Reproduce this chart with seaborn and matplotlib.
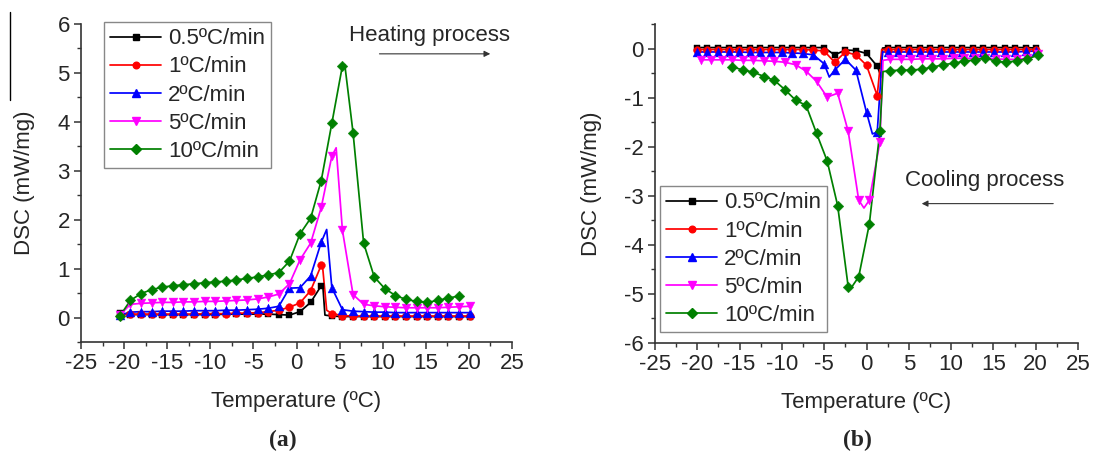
import numpy as np
import pandas as pd
import matplotlib
matplotlib.use("Agg")
import matplotlib.pyplot as plt
import seaborn as sns
from matplotlib.lines import Line2D
from matplotlib.ticker import MultipleLocator

# ---------------- data ----------------
rates = ["0.5ºC/min", "1ºC/min", "2ºC/min", "5ºC/min", "10ºC/min"]

# (a) heating - marker temperatures
heat_T = [-20.50, -19.27, -18.04, -16.81, -15.58, -14.35, -13.12, -11.89, -10.66, -9.43,
          -8.20, -6.97, -5.74, -4.51, -3.28, -2.05, -0.82, 0.41, 1.64, 2.87,
          4.10, 5.33, 6.56, 7.79, 9.02, 10.25, 11.48, 12.71, 13.94, 15.17,
          16.40, 17.63, 18.86, 20.09]
heat_T10 = heat_T[:33]

heat_05 = [0.09, 0.06, 0.06, 0.06, 0.06, 0.06, 0.06, 0.06, 0.06, 0.06,
           0.07, 0.07, 0.07, 0.07, 0.07, 0.06, 0.05, 0.12, 0.31, 0.65,
           0.03, 0.02, 0.02, 0.02, 0.02, 0.02, 0.02, 0.02, 0.02, 0.02,
           0.02, 0.02, 0.02, 0.02]
heat_1 = [0.04, 0.07, 0.07, 0.07, 0.07, 0.07, 0.07, 0.07, 0.08, 0.08,
          0.08, 0.09, 0.09, 0.10, 0.12, 0.15, 0.21, 0.30, 0.55, 1.07,
          0.08, 0.04, 0.03, 0.03, 0.03, 0.03, 0.03, 0.03, 0.03, 0.03,
          0.03, 0.03, 0.03, 0.03]
heat_2 = [0.05, 0.11, 0.12, 0.12, 0.13, 0.13, 0.13, 0.14, 0.14, 0.14,
          0.15, 0.15, 0.16, 0.17, 0.19, 0.23, 0.60, 0.61, 0.85, 1.54,
          0.61, 0.16, 0.13, 0.12, 0.11, 0.11, 0.10, 0.10, 0.10, 0.10,
          0.10, 0.10, 0.10, 0.10]
heat_5 = [0.05, 0.27, 0.29, 0.30, 0.31, 0.31, 0.32, 0.32, 0.33, 0.33,
          0.34, 0.35, 0.36, 0.38, 0.42, 0.48, 0.69, 1.18, 1.52, 2.25,
          3.30, 1.78, 0.47, 0.27, 0.24, 0.22, 0.21, 0.20, 0.20, 0.20,
          0.20, 0.21, 0.22, 0.23]
heat_10 = [0.03, 0.35, 0.49, 0.57, 0.62, 0.65, 0.67, 0.69, 0.71, 0.73,
           0.74, 0.77, 0.80, 0.83, 0.87, 0.92, 1.15, 1.71, 2.03, 2.80,
           3.97, 5.15, 3.78, 1.52, 0.83, 0.59, 0.45, 0.37, 0.33, 0.31,
           0.35, 0.40, 0.44]
# extra curve points (peaks between markers)
heat_extra_T = [[3.05, 3.30], [3.00, 3.50], [3.50], [4.60], [5.60]]
heat_extra_v = [[0.66, 0.05], [1.09, 0.15], [1.80], [3.47], [5.17]]

# (b) cooling - marker temperatures
cool_Ta = [-20.07, -18.82, -17.56, -16.30, -15.05, -13.80, -12.54, -11.29, -10.03, -8.78,
           -7.52, -6.27, -5.01, -3.76, -2.50, -1.25, 0.00, 1.27, 2.52, 3.78,
           5.03, 6.29, 7.54, 8.80, 10.05, 11.30, 12.56, 13.81, 15.07, 16.32,
           17.58, 18.83, 20.09]
cool_Tb = [-19.59, -18.35, -17.10, -15.86, -14.61, -13.37, -12.12, -10.88, -9.63, -8.39,
           -7.14, -5.90, -4.65, -3.41, -2.16, -0.92, 0.33, 1.58, 2.82, 4.07,
           5.31, 6.56, 7.80, 9.05, 10.29, 11.54, 12.78, 14.03, 15.27, 16.52,
           17.76, 19.01, 20.25]
cool_T10 = cool_Tb[3:]

cool_05 = [0.02, 0.02, 0.02, 0.02, 0.02, 0.02, 0.02, 0.02, 0.02, 0.02,
           0.02, 0.02, 0.02, -0.13, -0.03, -0.04, -0.10, -0.36, 0.02, 0.02,
           0.02, 0.02, 0.02, 0.02, 0.02, 0.02, 0.02, 0.02, 0.02, 0.02,
           0.02, 0.02, 0.01]
cool_1 = [-0.02, -0.02, -0.02, -0.02, -0.02, -0.02, -0.02, -0.02, -0.02, -0.02,
          -0.02, -0.03, -0.05, -0.28, -0.07, -0.13, -0.34, -0.96, -0.02, -0.02,
          -0.02, -0.02, -0.02, -0.02, -0.02, -0.02, -0.02, -0.02, -0.02, -0.02,
          -0.02, -0.02, -0.02]
cool_2 = [-0.07, -0.07, -0.07, -0.07, -0.07, -0.08, -0.08, -0.08, -0.08, -0.09,
          -0.10, -0.13, -0.31, -0.44, -0.22, -0.44, -1.30, -1.70, -0.07, -0.07,
          -0.07, -0.07, -0.07, -0.07, -0.07, -0.07, -0.07, -0.07, -0.07, -0.07,
          -0.07, -0.06, -0.05]
cool_5 = [-0.23, -0.23, -0.23, -0.23, -0.24, -0.24, -0.25, -0.26, -0.28, -0.33,
          -0.46, -0.67, -0.99, -0.91, -1.69, -3.09, -3.09, -1.91, -0.22, -0.22,
          -0.22, -0.21, -0.21, -0.21, -0.20, -0.20, -0.20, -0.20, -0.21, -0.22,
          -0.22, -0.20, -0.12]
cool_10 = [-0.37, -0.44, -0.48, -0.57, -0.65, -0.84, -1.05, -1.16, -1.73, -2.29,
           -3.20, -4.86, -4.65, -3.58, -1.69, -0.45, -0.44, -0.44, -0.42, -0.38,
           -0.33, -0.30, -0.26, -0.23, -0.19, -0.26, -0.28, -0.25, -0.21, -0.14]
cool_extra_T = [[1.75, 1.90], [1.80], [-4.40, 0.70, 1.90], [-0.30, 1.95], [-1.90, 1.95]]
cool_extra_v = [[-0.58, 0.01], [-0.02], [-0.58, -1.74, -0.07], [-3.25, -0.24], [-4.90, -0.47]]

# ---------------- style ----------------
colors = ["#000000", "#FF0000", "#0000FF", "#FF00FF", "#008000"]
marks = ["s", "o", "^", "v", "D"]
msize = [4.6, 5.6, 6.4, 6.4, 5.4]

sns.set_theme(style="ticks")
plt.rcParams["font.family"] = ["Liberation Sans", "DejaVu Sans"]
plt.rcParams["axes.unicode_minus"] = False
FS = 16

fig = plt.figure(figsize=(11.04, 4.55), dpi=100)
fig.patch.set_facecolor("white")

W, H = 1104, 455
def axes_px(x0, x1, ytop, ybot):
    return [x0 / W, 1 - ybot / H, (x1 - x0) / W, (ybot - ytop) / H]

ax_a = fig.add_axes(axes_px(81, 512, 24, 342))
ax_b = fig.add_axes(axes_px(655, 1078, 24, 343))

def draw(ax, Ts, vals, ex_T, ex_v):
    for i in range(5):
        T = list(Ts[i]) + ex_T[i]
        v = list(vals[i]) + ex_v[i]
        df = pd.DataFrame({"T": T, "v": v}).sort_values("T")
        sns.lineplot(data=df, x="T", y="v", ax=ax, color=colors[i], lw=1.25,
                     sort=True, estimator=None, legend=False)
        dm = pd.DataFrame({"T": Ts[i], "v": vals[i]})
        sns.scatterplot(data=dm, x="T", y="v", ax=ax, color=colors[i],
                        marker=marks[i], s=msize[i] ** 2, edgecolor=colors[i],
                        linewidth=0.3, legend=False, zorder=3)

draw(ax_a, [heat_T, heat_T, heat_T, heat_T, heat_T10],
     [heat_05, heat_1, heat_2, heat_5, heat_10], heat_extra_T, heat_extra_v)
draw(ax_b, [cool_Ta, cool_Ta, cool_Ta, cool_Tb, cool_T10],
     [cool_05, cool_1, cool_2, cool_5, cool_10], cool_extra_T, cool_extra_v)

def style(ax, ylim, yticks, ylabpad):
    ax.set_xlim(-25, 25)
    ax.set_ylim(*ylim)
    ax.set_xticks(range(-25, 30, 5))
    ax.set_yticks(yticks)
    ax.xaxis.set_minor_locator(MultipleLocator(2.5))
    ax.yaxis.set_minor_locator(MultipleLocator(0.5))
    for s in ["top", "right"]:
        ax.spines[s].set_visible(False)
    for s in ["left", "bottom"]:
        ax.spines[s].set_color("#333333")
        ax.spines[s].set_linewidth(1.2)
    ax.tick_params(which="major", direction="out", length=5, width=1.1,
                   color="#333333", labelsize=FS, pad=3)
    ax.tick_params(which="minor", direction="out", length=3, width=1.0,
                   color="#333333")
    ax.set_xlabel("Temperature (ºC)", fontsize=FS, labelpad=12)
    ax.set_ylabel("DSC (mW/mg)", fontsize=FS, labelpad=ylabpad)
    ax.set_facecolor("white")

style(ax_a, (-0.5, 6), range(0, 7), 16)
style(ax_b, (-6, 0.5), range(-6, 1), 16)

handles = [Line2D([], [], color=colors[i], marker=marks[i], ms=msize[i] * 0.85,
                  lw=1.25) for i in range(5)]

leg_kw = dict(fontsize=FS, frameon=True, fancybox=False, framealpha=1,
              edgecolor="#888888", handlelength=2.3, handletextpad=0.3,
              labelspacing=0.32, borderpad=0.28, borderaxespad=0)
la = ax_a.legend(handles, rates, loc="upper left", bbox_to_anchor=(0.053, 1.006), **leg_kw)
lb = ax_b.legend(handles, rates, loc="lower left", bbox_to_anchor=(0.012, 0.034), **leg_kw)
for lg in (la, lb):
    lg.get_frame().set_linewidth(1.0)

# process annotations
ax_a.text(15.4, 5.76, "Heating process", fontsize=FS, ha="center", va="center")
ax_a.annotate("", xy=(22.8, 5.39), xytext=(9.3, 5.39),
              arrowprops=dict(arrowstyle="-|>", color="#333333", lw=0.8,
                              mutation_scale=9), annotation_clip=False)
ax_b.text(14.0, -2.69, "Cooling process", fontsize=FS, ha="center", va="center")
ax_b.annotate("", xy=(6.2, -3.16), xytext=(22.4, -3.16),
              arrowprops=dict(arrowstyle="-|>", color="#333333", lw=0.8,
                              mutation_scale=9), annotation_clip=False)

# panel captions
fig.text(283 / W, 1 - 440 / H, "(a)", fontsize=17, fontweight="bold",
         family="Liberation Serif", ha="center", va="center")
fig.text(857 / W, 1 - 440 / H, "(b)", fontsize=17, fontweight="bold",
         family="Liberation Serif", ha="center", va="center")

# thin border line remnant at the top-left of the scan
fig.add_artist(Line2D([10 / W, 10 / W], [1 - 12 / H, 1 - 100 / H],
                      color="black", lw=1.0))

fig.savefig("out.png", dpi=100, facecolor="white")
